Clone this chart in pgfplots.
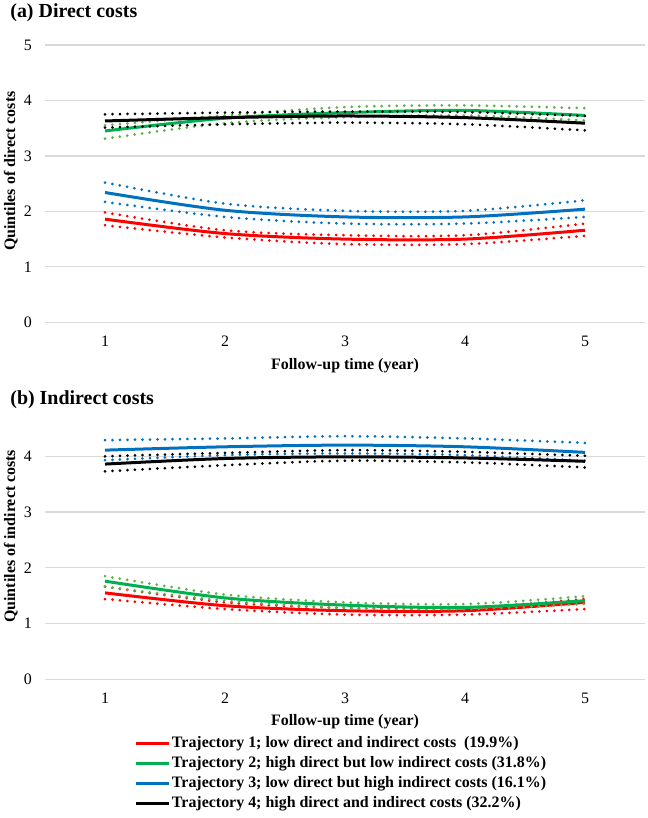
\documentclass[border=0pt]{standalone}
\usepackage{pgfplots}
\pgfplotsset{compat=1.18}
\usepackage{fontspec}
\setmainfont{Liberation Serif}
\definecolor{tred}{HTML}{FF0000}
\definecolor{tgreen}{HTML}{00B050}
\definecolor{tgreend}{HTML}{5DB04A}
\definecolor{tblue}{HTML}{0070C0}
\definecolor{gridc}{HTML}{D9D9D9}
\pgfplotsset{
 every axis title shift=0pt,
 costaxis/.style={
  scale only axis, width=600bp,
  xmin=0.5, xmax=5.5, xtick={1,2,3,4,5},
  ymin=0,
  axis line style={draw=none}, major tick length=0pt,
  ymajorgrids, major grid style={gridc, line width=1.3bp},
  tick label style={font=\fontsize{16}{16}\selectfont},
  /pgf/number format/assume math mode=true,
  xticklabel style={anchor=center, yshift=-19bp, inner sep=0pt},
  yticklabel style={anchor=east, xshift=-13bp, inner sep=0pt},
  label style={font=\bfseries\fontsize{16}{16}\selectfont},
  title style={font=\bfseries\fontsize{20}{20}\selectfont, anchor=west, inner sep=0pt},
  clip=false,
 },
 mainl/.style={smooth, tension=0.5, line width=3bp, mark=none},
 dotl/.style={smooth, tension=0.5, line width=3bp, mark=none, line cap=round, dash pattern=on 0pt off 7.5bp, forget plot},
}
\begin{document}
\begin{tikzpicture}
\useasboundingbox (0,0) rectangle (648bp,818bp);
% ---------- (a) Direct costs ----------
\begin{axis}[costaxis,
  at={(45bp,495.7bp)}, anchor=south west, height=277.3bp,
  ymax=5, ytick={0,1,2,3,4,5},
  title={(a) Direct costs},
  title style={at={(axis description cs:-0.058,1.115)}},
  ylabel={Quintiles of direct costs},
  ylabel style={at={(axis description cs:-0.057,0.545)}, anchor=center},
  xlabel={Follow-up time (year)},
  xlabel style={at={(axis description cs:0.5,-0.158)}, anchor=center},
]
\addplot[dotl, tred] coordinates {(1,1.98)(2,1.66)(3,1.57)(4,1.57)(5,1.78)};
\addplot[dotl, tred] coordinates {(1,1.75)(2,1.53)(3,1.41)(4,1.41)(5,1.56)};
\addplot[mainl, tred] coordinates {(1,1.86)(2,1.60)(3,1.50)(4,1.50)(5,1.66)};
\addplot[dotl, tgreend] coordinates {(1,3.55)(2,3.73)(3,3.88)(4,3.91)(5,3.86)};
\addplot[dotl, tgreend] coordinates {(1,3.31)(2,3.59)(3,3.70)(4,3.73)(5,3.64)};
\addplot[mainl, tgreen] coordinates {(1,3.45)(2,3.68)(3,3.78)(4,3.82)(5,3.73)};
\addplot[dotl, tblue] coordinates {(1,2.52)(2,2.14)(3,2.01)(4,2.01)(5,2.20)};
\addplot[dotl, tblue] coordinates {(1,2.17)(2,1.90)(3,1.78)(4,1.78)(5,1.90)};
\addplot[mainl, tblue] coordinates {(1,2.34)(2,2.02)(3,1.90)(4,1.90)(5,2.04)};
\addplot[dotl, black] coordinates {(1,3.75)(2,3.78)(3,3.80)(4,3.79)(5,3.72)};
\addplot[dotl, black] coordinates {(1,3.51)(2,3.57)(3,3.60)(4,3.57)(5,3.46)};
\addplot[mainl, black] coordinates {(1,3.63)(2,3.69)(3,3.72)(4,3.69)(5,3.59)};
\end{axis}
% ---------- (b) Indirect costs ----------
\begin{axis}[costaxis,
  at={(45bp,138.7bp)}, anchor=south west, height=250.9bp,
  ymax=4.5, ytick={0,1,2,3,4},
  title={(b) Indirect costs},
  title style={at={(axis description cs:-0.058,1.113)}},
  ylabel={Quintiles of indirect costs},
  ylabel style={at={(axis description cs:-0.057,0.57)}, anchor=center},
  xlabel={Follow-up time (year)},
  xlabel style={at={(axis description cs:0.5,-0.170)}, anchor=center},
  legend cell align=left,
  legend image code/.code={\draw[#1, line width=3bp] (0bp,0bp) -- (33bp,0bp);},
  legend style={at={(axis description cs:0.15,-0.222)}, anchor=north west,
    draw=none, fill=none, inner sep=0pt, outer sep=0pt,
    font=\bfseries\fontsize{16}{16}\selectfont, row sep=3bp,
    nodes={inner sep=1bp, text height=11bp, text depth=4bp}},
]
\addplot[dotl, tred] coordinates {(1,1.66)(2,1.38)(3,1.28)(4,1.28)(5,1.44)};
\addplot[dotl, tred] coordinates {(1,1.44)(2,1.26)(3,1.16)(4,1.16)(5,1.26)};
\addplot[mainl, tred] coordinates {(1,1.55)(2,1.32)(3,1.23)(4,1.23)(5,1.38)};
\addlegendentry{Trajectory 1; low direct and indirect costs~ (19.9\%)}
\addplot[dotl, tgreend] coordinates {(1,1.85)(2,1.52)(3,1.38)(4,1.35)(5,1.49)};
\addplot[dotl, tgreend] coordinates {(1,1.66)(2,1.41)(3,1.28)(4,1.26)(5,1.35)};
\addplot[mainl, tgreen] coordinates {(1,1.76)(2,1.46)(3,1.33)(4,1.29)(5,1.41)};
\addlegendentry{Trajectory 2; high direct but low indirect costs (31.8\%)}
\addplot[dotl, tblue] coordinates {(1,4.29)(2,4.32)(3,4.36)(4,4.32)(5,4.24)};
\addplot[dotl, tblue] coordinates {(1,3.93)(2,4.02)(3,4.05)(4,4.02)(5,3.92)};
\addplot[mainl, tblue] coordinates {(1,4.11)(2,4.17)(3,4.20)(4,4.17)(5,4.07)};
\addlegendentry{Trajectory 3; low direct but high indirect costs (16.1\%)}
\addplot[dotl, black] coordinates {(1,4.00)(2,4.06)(3,4.11)(4,4.08)(5,4.01)};
\addplot[dotl, black] coordinates {(1,3.73)(2,3.84)(3,3.92)(4,3.89)(5,3.80)};
\addplot[mainl, black] coordinates {(1,3.86)(2,3.96)(3,3.99)(4,3.97)(5,3.91)};
\addlegendentry{Trajectory 4; high direct and indirect costs (32.2\%)}
\end{axis}
\end{tikzpicture}
\end{document}
